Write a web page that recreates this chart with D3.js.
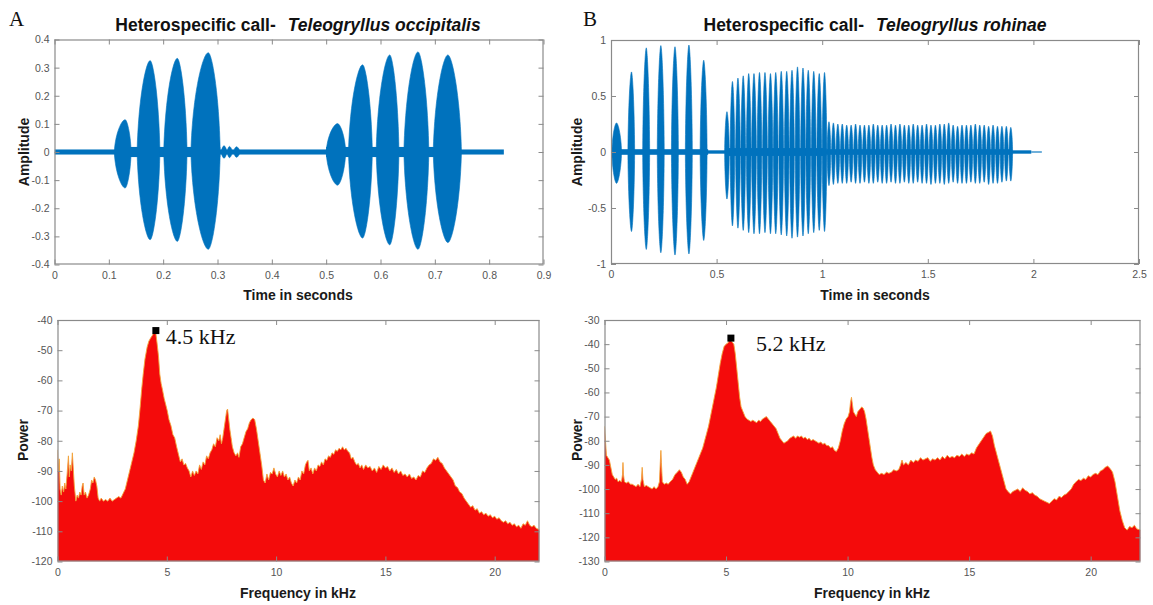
<!DOCTYPE html>
<html>
<head>
<meta charset="utf-8">
<script src="https://cdn.jsdelivr.net/npm/d3@7"></script>
<style>
  body { margin: 0; background: #fff; }
  svg { display: block; }
</style>
</head>
<body>
<svg id="fig" width="1153" height="605"></svg>
<script>
// ---------------- Call A: Teleogryllus occipitalis ----------------
const timeTicksA = [0, 0.1, 0.2, 0.3, 0.4, 0.5, 0.6, 0.7, 0.8, 0.9];
const ampTicksA = [-0.4, -0.3, -0.2, -0.1, 0, 0.1, 0.2, 0.3, 0.4];
// background / inter-pulse band: [start s, end s, half amplitude]
const baselineA = [[0, 0.827, 0.009], [0.112, 0.305, 0.018], [0.500, 0.748, 0.018]];
// sound pulses: [start s, peak s, end s, max amplitude, min amplitude]
const pulsesA = [
  [0.110, 0.130, 0.141, 0.115, -0.128],
  [0.152, 0.176, 0.194, 0.325, -0.312],
  [0.201, 0.226, 0.244, 0.333, -0.318],
  [0.251, 0.283, 0.305, 0.353, -0.346],
  [0.307, 0.312, 0.317, 0.022, -0.022],
  [0.318, 0.322, 0.327, 0.020, -0.020],
  [0.330, 0.335, 0.341, 0.019, -0.019],
  [0.500, 0.521, 0.536, 0.101, -0.118],
  [0.541, 0.567, 0.585, 0.310, -0.306],
  [0.592, 0.617, 0.634, 0.345, -0.330],
  [0.643, 0.669, 0.689, 0.356, -0.346],
  [0.697, 0.724, 0.749, 0.345, -0.322]
];
const freqTicks = [0, 5, 10, 15, 20];
const powerTicksA = [-120, -110, -100, -90, -80, -70, -60, -50, -40];
// power spectrum: [kHz, dB]
const spectrumA = [
  [0.00,-83],[0.04,-90],[0.08,-86],[0.12,-96],[0.17,-98],[0.22,-95],[0.28,-97],[0.33,-94],[0.38,-96],[0.44,-91],
  [0.50,-85],[0.54,-92],[0.58,-88],[0.63,-90],[0.68,-84],[0.72,-89],[0.77,-95],[0.84,-100],[0.90,-98],[0.96,-99],
  [1.02,-97],[1.08,-98],[1.13,-95],[1.17,-94],[1.22,-98],[1.28,-97],[1.35,-99],[1.42,-98],[1.50,-96],[1.56,-93],
  [1.62,-94],[1.68,-92],[1.74,-93],[1.80,-95],[1.86,-99],[1.93,-100],[2.00,-99],[2.10,-100],[2.20,-99.5],[2.30,-100],
  [2.40,-99],[2.50,-100],[2.60,-99.5],[2.70,-99],[2.80,-98.5],[2.90,-99],[3.00,-97.5],[3.10,-96],[3.20,-93],[3.30,-90],
  [3.40,-87],[3.50,-84],[3.60,-80],[3.70,-75],[3.78,-69],[3.85,-63],[3.92,-58],[4.00,-53],[4.10,-49],[4.18,-47],
  [4.26,-46],[4.35,-45],[4.42,-44],[4.50,-44.5],[4.56,-48],[4.62,-52],[4.68,-58],[4.74,-61],[4.80,-63],[4.88,-66],
  [4.95,-68],[5.02,-70],[5.10,-73],[5.19,-75],[5.28,-78],[5.36,-79],[5.45,-82],[5.55,-85],[5.62,-87],[5.70,-86],
  [5.78,-88],[5.86,-87.5],[5.94,-89],[6.02,-90],[6.10,-92],[6.18,-90],[6.26,-91.5],[6.34,-90],[6.42,-91],[6.50,-88],
  [6.58,-89.5],[6.66,-87],[6.74,-88],[6.82,-85],[6.90,-86],[6.98,-84],[7.06,-83],[7.14,-81],[7.22,-82],[7.30,-79],
  [7.38,-80],[7.44,-78],[7.50,-81],[7.56,-79],[7.62,-76],[7.68,-73],[7.74,-70],[7.78,-69.5],[7.82,-72],[7.88,-76],
  [7.94,-79],[8.00,-82],[8.08,-84],[8.16,-85],[8.24,-84],[8.30,-85.5],[8.38,-82],[8.46,-81],[8.54,-79],[8.62,-77],
  [8.70,-76],[8.78,-74],[8.86,-73],[8.94,-72.5],[9.02,-73],[9.10,-76],[9.18,-80],[9.26,-84],[9.34,-88],[9.42,-93],
  [9.50,-94],[9.58,-91],[9.66,-93],[9.74,-90.5],[9.82,-91],[9.90,-89],[9.98,-91],[10.06,-92],[10.14,-90],[10.22,-91.5],
  [10.30,-90],[10.38,-92],[10.46,-91],[10.54,-93],[10.62,-92],[10.70,-94],[10.78,-95],[10.86,-93],[10.94,-94],[11.02,-92],
  [11.10,-93],[11.18,-90],[11.26,-91],[11.34,-88],[11.40,-87],[11.46,-86.5],[11.52,-90],[11.60,-89],[11.68,-91],[11.76,-89],
  [11.84,-90],[11.92,-88],[12.00,-88.5],[12.08,-87],[12.16,-88],[12.24,-86],[12.32,-86.5],[12.40,-85],[12.48,-85.5],[12.56,-84],
  [12.64,-84.5],[12.72,-83],[12.80,-83.5],[12.88,-82.5],[12.96,-83],[13.04,-82],[13.12,-83],[13.20,-82.5],[13.28,-83.5],[13.36,-84],
  [13.44,-86],[13.52,-85.5],[13.60,-87],[13.68,-88],[13.76,-87.5],[13.84,-89],[13.92,-88],[14.00,-89.5],[14.10,-88],[14.20,-89],
  [14.30,-88.5],[14.40,-90],[14.50,-89],[14.60,-90.5],[14.70,-88.5],[14.80,-89.5],[14.90,-88],[15.00,-89],[15.10,-88.5],[15.20,-90],
  [15.30,-89],[15.40,-90.5],[15.50,-89.5],[15.60,-91],[15.70,-90],[15.80,-91.5],[15.90,-91],[16.00,-92],[16.10,-91],[16.20,-92.5],
  [16.30,-92],[16.40,-93],[16.50,-91.5],[16.60,-92],[16.70,-90],[16.80,-90.5],[16.90,-89],[17.00,-88],[17.10,-87.5],[17.20,-86],
  [17.30,-86.5],[17.40,-85.5],[17.50,-87],[17.60,-87.5],[17.70,-89],[17.80,-90],[17.90,-91],[18.00,-92],[18.10,-93],[18.20,-95],
  [18.30,-95.5],[18.40,-97],[18.50,-97.5],[18.60,-99],[18.70,-100],[18.80,-101],[18.90,-102],[19.00,-101.5],[19.10,-103],[19.20,-102.5],
  [19.30,-104],[19.40,-103.5],[19.50,-104.5],[19.60,-104],[19.70,-105],[19.80,-104.5],[19.90,-105.5],[20.00,-105],[20.10,-106],[20.20,-105.5],
  [20.30,-106.5],[20.40,-107],[20.50,-106.5],[20.60,-107.5],[20.70,-107],[20.80,-108],[20.90,-107.5],[21.00,-108.5],[21.10,-108],[21.20,-109],
  [21.30,-107.5],[21.40,-108],[21.50,-106.5],[21.60,-108],[21.70,-108.5],[21.80,-108],[21.90,-109],[22.05,-109.5]
];
const peakA = { freq: 4.5, power: -43.5, label: "4.5 kHz" };

// ---------------- Call B: Teleogryllus rohinae ----------------
const timeTicksB = [0, 0.5, 1, 1.5, 2, 2.5];
const ampTicksB = [-1, -0.5, 0, 0.5, 1];
const baselineB = [[0, 1.99, 0.015], [1.99, 2.04, 0.005], [0, 0.46, 0.025], [0.54, 1.02, 0.035], [1.02, 1.90, 0.025]];
// slow chirp pulses: [start s, peak s, end s, max amplitude, min amplitude]
const chirpPulsesB = [
  [0.004, 0.026, 0.050, 0.26, -0.28],
  [0.080, 0.097, 0.112, 0.715, -0.71],
  [0.150, 0.167, 0.183, 0.93, -0.87],
  [0.219, 0.236, 0.252, 0.95, -0.90],
  [0.286, 0.303, 0.319, 0.94, -0.92],
  [0.352, 0.369, 0.385, 0.955, -0.91],
  [0.422, 0.439, 0.455, 0.82, -0.79]
];
// loud trill: pulse centres, maxima and minima
const trillTimesB = [0.549,0.575,0.601,0.626,0.652,0.677,0.703,0.729,0.755,0.780,0.806,0.832,0.857,0.883,0.909,0.934,0.960,0.986,1.011];
const trillTopB = [0.36,0.63,0.66,0.68,0.70,0.70,0.71,0.71,0.70,0.71,0.72,0.72,0.73,0.76,0.75,0.73,0.72,0.70,0.71];
const trillBottomB = [-0.42,-0.66,-0.68,-0.70,-0.72,-0.73,-0.73,-0.72,-0.73,-0.73,-0.74,-0.75,-0.77,-0.76,-0.75,-0.73,-0.72,-0.70,-0.71];
// soft trill
const softTimesB = [1.032,1.053,1.074,1.095,1.116,1.137,1.158,1.179,1.200,1.221,1.242,1.263,1.284,1.305,1.326,1.347,1.368,1.389,1.410,1.431,1.452,
  1.473,1.494,1.515,1.536,1.557,1.578,1.599,1.620,1.641,1.662,1.683,1.704,1.725,1.746,1.767,1.788,1.809,1.830,1.851,1.872,1.893];
const softTopB = [0.27,0.26,0.25,0.25,0.24,0.24,0.25,0.24,0.24,0.24,0.25,0.24,0.24,0.24,0.25,0.24,0.25,0.24,0.24,0.25,0.24,
  0.24,0.25,0.24,0.24,0.25,0.25,0.26,0.24,0.23,0.24,0.24,0.24,0.25,0.24,0.24,0.23,0.24,0.23,0.23,0.23,0.22];
const softBottomB = [-0.30,-0.29,-0.28,-0.28,-0.28,-0.27,-0.28,-0.28,-0.27,-0.28,-0.28,-0.27,-0.28,-0.28,-0.27,-0.28,-0.28,-0.27,-0.28,-0.28,-0.27,
  -0.28,-0.28,-0.29,-0.28,-0.28,-0.29,-0.28,-0.27,-0.28,-0.28,-0.28,-0.27,-0.28,-0.28,-0.27,-0.29,-0.28,-0.28,-0.27,-0.26,-0.26];
const powerTicksB = [-130, -120, -110, -100, -90, -80, -70, -60, -50, -40, -30];
const spectrumB = [
  [0.00,-74],[0.04,-80],[0.08,-86],[0.14,-87],[0.20,-88],[0.26,-91],[0.32,-94],[0.38,-95],[0.44,-96],[0.50,-95.5],
  [0.56,-97],[0.62,-96.5],[0.70,-97],[0.74,-94],[0.76,-89],[0.78,-94],[0.82,-97],[0.90,-97.5],[0.98,-97],[1.06,-98],
  [1.14,-98],[1.22,-98.5],[1.30,-99],[1.38,-98],[1.46,-99],[1.52,-96],[1.55,-91],[1.58,-96],[1.64,-99],[1.72,-98.5],
  [1.80,-99],[1.88,-99.5],[1.96,-100],[2.04,-99],[2.12,-100],[2.20,-99],[2.26,-97],[2.30,-88],[2.32,-84],[2.34,-89],
  [2.38,-97],[2.46,-98],[2.54,-97.5],[2.62,-98],[2.70,-97],[2.80,-96],[2.90,-94],[3.00,-93],[3.08,-92],[3.16,-93],
  [3.24,-95],[3.32,-96],[3.40,-98],[3.48,-97],[3.56,-95],[3.64,-93],[3.72,-91],[3.80,-89],[3.88,-87],[3.96,-85],
  [4.04,-83],[4.12,-80],[4.20,-77],[4.28,-74],[4.36,-70],[4.44,-66],[4.52,-62],[4.60,-58],[4.68,-53],[4.76,-48],
  [4.84,-44],[4.92,-41],[5.00,-40],[5.08,-39.5],[5.16,-38],[5.24,-39],[5.32,-40],[5.38,-44],[5.44,-50],[5.50,-56],
  [5.56,-62],[5.62,-66],[5.70,-68],[5.78,-70],[5.86,-71],[5.94,-71.5],[6.02,-72],[6.10,-71.5],[6.18,-72],[6.26,-72.5],
  [6.34,-71.5],[6.42,-72],[6.50,-71],[6.58,-70.5],[6.66,-70],[6.74,-71],[6.82,-72],[6.90,-73],[6.98,-74],[7.06,-75],
  [7.14,-77],[7.22,-79],[7.30,-80],[7.38,-81],[7.46,-80.5],[7.54,-80],[7.62,-79],[7.70,-78.5],[7.78,-78],[7.86,-79],
  [7.94,-78],[8.02,-78.5],[8.10,-78],[8.18,-79],[8.26,-78.5],[8.34,-79.5],[8.42,-79],[8.50,-80],[8.58,-79.5],[8.66,-80],
  [8.74,-80.5],[8.82,-81],[8.90,-80.5],[8.98,-81.5],[9.06,-81],[9.14,-82],[9.22,-82],[9.30,-83],[9.38,-82.5],[9.46,-84],
  [9.54,-84.5],[9.62,-83],[9.70,-80],[9.78,-76],[9.86,-73],[9.94,-71],[10.02,-70],[10.08,-68],[10.12,-64],[10.16,-62],
  [10.20,-65],[10.24,-68],[10.30,-69],[10.36,-70],[10.42,-68],[10.50,-67],[10.58,-66],[10.64,-66.5],[10.70,-68],[10.76,-71],
  [10.82,-75],[10.88,-79],[10.94,-83],[11.00,-87],[11.06,-90],[11.14,-92],[11.22,-93],[11.30,-94],[11.40,-93.5],[11.50,-94],
  [11.60,-93],[11.70,-93.5],[11.80,-93],[11.90,-92],[12.00,-92.5],[12.10,-92],[12.18,-90],[12.24,-88],[12.30,-90],[12.40,-89],
  [12.50,-90],[12.60,-88],[12.70,-89],[12.80,-88],[12.90,-88.5],[13.00,-87],[13.10,-88],[13.20,-87.5],[13.30,-87],[13.40,-88.5],
  [13.50,-87.5],[13.60,-88],[13.70,-87],[13.80,-88],[13.90,-86.5],[14.00,-87.5],[14.10,-86],[14.20,-87],[14.30,-86.5],[14.40,-87],
  [14.50,-86],[14.60,-86.5],[14.70,-85.5],[14.80,-86.5],[14.90,-85.5],[15.00,-86],[15.10,-85],[15.20,-85.5],[15.30,-83],[15.40,-81.5],
  [15.50,-80],[15.60,-78.5],[15.70,-77],[15.80,-76.5],[15.88,-76],[15.96,-78],[16.04,-82],[16.12,-85],[16.20,-88],[16.28,-91],
  [16.36,-94],[16.44,-97],[16.52,-100],[16.60,-101],[16.70,-102],[16.80,-101],[16.90,-100.5],[17.00,-100],[17.10,-101],[17.20,-99.5],
  [17.30,-100.5],[17.40,-101],[17.50,-102],[17.60,-101.5],[17.70,-102.5],[17.80,-103],[17.90,-104],[18.00,-104.5],[18.10,-105],[18.20,-105.5],
  [18.30,-106],[18.40,-105],[18.50,-104],[18.60,-104.5],[18.70,-103],[18.80,-103.5],[18.90,-102.5],[19.00,-102],[19.10,-101],[19.20,-100],
  [19.30,-98],[19.40,-97],[19.50,-96],[19.60,-96.5],[19.70,-95.5],[19.80,-96],[19.90,-94.5],[20.00,-95],[20.10,-94],[20.20,-93.5],
  [20.30,-94],[20.40,-92.5],[20.50,-92],[20.60,-91],[20.70,-90.5],[20.80,-91.5],[20.90,-93],[21.00,-97],[21.10,-103],[21.20,-109],
  [21.30,-113],[21.40,-116],[21.50,-117],[21.60,-115.5],[21.70,-116],[21.80,-115],[21.90,-116.5],[22.05,-117]
];
const peakB = { freq: 5.2, power: -37.5, label: "5.2 kHz" };

// ---------------- drawing ----------------
const svg = d3.select("#fig");
const SANS = "'Liberation Sans', Arial, Helvetica, sans-serif";
const SERIF = "'Liberation Serif', 'Times New Roman', serif";
const BLUE = "#0072bd";
const RED = "#f40b0b";
const AXIS = "#8a8a8a";
const fmtNum = d => String(+d.toFixed(2));

let clipId = 0;
function makeAxes(box, xDomain, yDomain, xTicks, yTicks) {
  const x = d3.scaleLinear().domain(xDomain).range([box.left, box.right]);
  const y = d3.scaleLinear().domain(yDomain).range([box.bottom, box.top]);
  const id = "clip" + (clipId++);
  svg.append("clipPath").attr("id", id).append("rect")
    .attr("x", box.left).attr("y", box.top)
    .attr("width", box.right - box.left).attr("height", box.bottom - box.top);
  const plot = svg.append("g").attr("clip-path", `url(#${id})`);
  const frame = svg.append("g");
  return { x, y, plot, frame, box, xTicks, yTicks };
}

function drawFrame(ax) {
  const { x, y, frame, box, xTicks, yTicks } = ax;
  const style = g => {
    g.select(".domain").remove();
    g.selectAll(".tick line").attr("stroke", AXIS).attr("stroke-width", 1);
    g.selectAll(".tick text").attr("fill", "#555").style("font-family", SANS).style("font-size", "10.5px");
  };
  frame.append("g").attr("transform", `translate(0,${box.bottom})`)
    .call(d3.axisBottom(x).tickValues(xTicks).tickFormat(fmtNum).tickSizeInner(-5).tickSizeOuter(0).tickPadding(7))
    .call(style);
  frame.append("g").attr("transform", `translate(0,${box.top})`)
    .call(d3.axisTop(x).tickValues(xTicks).tickFormat("").tickSizeInner(-5).tickSizeOuter(0))
    .call(style);
  frame.append("g").attr("transform", `translate(${box.left},0)`)
    .call(d3.axisLeft(y).tickValues(yTicks).tickFormat(fmtNum).tickSizeInner(-5).tickSizeOuter(0).tickPadding(5))
    .call(style);
  frame.append("g").attr("transform", `translate(${box.right},0)`)
    .call(d3.axisRight(y).tickValues(yTicks).tickFormat("").tickSizeInner(-5).tickSizeOuter(0))
    .call(style);
  frame.append("rect")
    .attr("x", box.left + 0.5).attr("y", box.top + 0.5)
    .attr("width", box.right - box.left - 1).attr("height", box.bottom - box.top - 1)
    .attr("fill", "none").attr("stroke", AXIS).attr("stroke-width", 1.2);
}

// lens-shaped envelope of one pulse of the waveform
function pulsePath(x, y, p) {
  const [t0, tp, t1, hi, lo] = p;
  const X0 = x(t0), XP = x(tp), X1 = x(t1), Y0 = y(0), YT = y(hi), YB = y(lo);
  const a = XP - X0, b = X1 - XP;
  return `M${X0},${Y0}` +
    `C${X0 + 0.1 * a},${Y0 + (YT - Y0) * 0.6} ${XP - 0.3 * a},${YT} ${XP},${YT}` +
    `C${XP + 0.3 * b},${YT} ${X1 - 0.1 * b},${Y0 + (YT - Y0) * 0.6} ${X1},${Y0}` +
    `C${X1 - 0.1 * b},${Y0 + (YB - Y0) * 0.6} ${XP + 0.3 * b},${YB} ${XP},${YB}` +
    `C${XP - 0.3 * a},${YB} ${X0 + 0.1 * a},${Y0 + (YB - Y0) * 0.6} ${X0},${Y0}Z`;
}

function drawWaveform(ax, baseline, pulses) {
  const { x, y, plot } = ax;
  plot.selectAll("rect.base").data(baseline).join("rect").attr("class", "base")
    .attr("x", d => x(d[0])).attr("width", d => x(d[1]) - x(d[0]))
    .attr("y", d => y(d[2])).attr("height", d => y(-d[2]) - y(d[2]))
    .attr("fill", BLUE);
  plot.selectAll("path.pulse").data(pulses).join("path").attr("class", "pulse")
    .attr("d", d => pulsePath(x, y, d))
    .attr("fill", BLUE).attr("stroke", BLUE).attr("stroke-width", 0.6);
}

function drawSpectrum(ax, data, peak, labelDx) {
  const { x, y, plot, frame } = ax;
  const floor = ax.y.domain()[0];
  plot.append("path").datum(data)
    .attr("d", d3.area().x(d => x(d[0])).y0(y(floor)).y1(d => y(d[1])))
    .attr("fill", RED);
  plot.append("path").datum(data)
    .attr("d", d3.line().x(d => x(d[0])).y(d => y(d[1])))
    .attr("fill", "none").attr("stroke", "#f2a43a").attr("stroke-width", 0.9);
  frame.append("rect")
    .attr("x", x(peak.freq) - 3.5).attr("y", y(peak.power) - 3.5)
    .attr("width", 7).attr("height", 7).attr("fill", "#000");
  frame.append("text")
    .attr("x", x(peak.freq) + labelDx).attr("y", y(peak.power) + 13)
    .style("font-family", SERIF).style("font-size", "22px").attr("fill", "#111")
    .text(peak.label);
}

function title(cx, cy, plain, italic) {
  const t = svg.append("text").attr("x", cx).attr("y", cy).attr("text-anchor", "middle")
    .style("font-family", SANS).style("font-size", "17.5px").style("font-weight", "bold").attr("fill", "#111");
  t.append("tspan").text(plain);
  t.append("tspan").attr("dx", 12).style("font-style", "italic").text(italic);
}

function axisLabel(x, y, text, rotate) {
  svg.append("text")
    .attr("transform", `translate(${x},${y})` + (rotate ? " rotate(-90)" : ""))
    .attr("text-anchor", "middle")
    .style("font-family", SANS).style("font-size", "14px").style("font-weight", "bold").attr("fill", "#1a1a1a")
    .text(text);
}

function panelLetter(x, y, s) {
  svg.append("text").attr("x", x).attr("y", y)
    .style("font-family", SERIF).style("font-size", "21px").attr("fill", "#111").text(s);
}

// ----- panel A -----
const waveA = makeAxes({ left: 54.5, right: 543.5, top: 39.5, bottom: 264.5 }, [0, 0.9], [-0.4, 0.4], timeTicksA, ampTicksA);
drawWaveform(waveA, baselineA, pulsesA);
drawFrame(waveA);
const specA = makeAxes({ left: 57.5, right: 539.5, top: 320, bottom: 561.5 }, [0, 22.05], [-120, -40], freqTicks, powerTicksA);
drawSpectrum(specA, spectrumA, peakA, 10);
drawFrame(specA);

// ----- panel B -----
const trillPulsesB = trillTimesB.map((t, i) => [t - 0.011, t, t + 0.011, trillTopB[i], trillBottomB[i]]);
const softPulsesB = softTimesB.map((t, i) => [t - 0.0085, t, t + 0.0085, softTopB[i], softBottomB[i]]);
const waveB = makeAxes({ left: 611, right: 1139, top: 40, bottom: 264 }, [0, 2.5], [-1, 1], timeTicksB, ampTicksB);
drawWaveform(waveB, baselineB, chirpPulsesB.concat(trillPulsesB, softPulsesB));
drawFrame(waveB);
const specB = makeAxes({ left: 604.5, right: 1140.5, top: 320, bottom: 561.5 }, [0, 22.05], [-130, -30], freqTicks, powerTicksB);
drawSpectrum(specB, spectrumB, peakB, 25);
drawFrame(specB);

// ----- titles and labels -----
panelLetter(9, 26, "A");
panelLetter(583, 26, "B");
title(298, 31, "Heterospecific call-", "Teleogryllus occipitalis");
title(875, 31, "Heterospecific call-", "Teleogryllus rohinae");
axisLabel(29, 152, "Amplitude", true);
axisLabel(582, 152, "Amplitude", true);
axisLabel(28, 440, "Power", true);
axisLabel(582, 440, "Power", true);
axisLabel(298, 300, "Time in seconds", false);
axisLabel(875, 300, "Time in seconds", false);
axisLabel(298, 598, "Frequency in kHz", false);
axisLabel(872, 598, "Frequency in kHz", false);
</script>
</body>
</html>
